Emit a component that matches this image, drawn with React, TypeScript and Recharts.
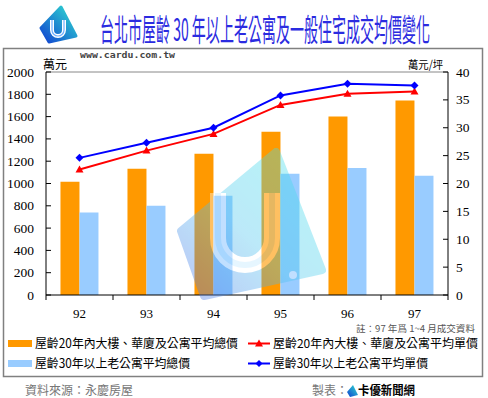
import React from 'react';
import { ComposedChart, Bar, Line, XAxis, YAxis, ReferenceLine } from 'recharts';

const years = ['92', '93', '94', '95', '96', '97'];
const newTotal = [1016, 1133, 1267, 1465, 1600, 1744];
const oldTotal = [740, 800, 890, 1088, 1139, 1070];
const newUnit = [22.5, 25.9, 28.9, 34.1, 36.1, 36.5];
const oldUnit = [24.6, 27.3, 30.0, 35.8, 37.9, 37.6];
const leftTicks = [0, 200, 400, 600, 800, 1000, 1200, 1400, 1600, 1800, 2000];
const rightTicks = [0, 5, 10, 15, 20, 25, 30, 35, 40];

const data = years.map((y, i) => ({
  year: y,
  newTotal: newTotal[i],
  oldTotal: oldTotal[i],
  newUnit: newUnit[i],
  oldUnit: oldUnit[i],
}));

const ORANGE = '#ff9900';
const LIGHT = '#99ccff';
const RED = '#ff0000';
const BLUE = '#0000ff';
const SERIF = '"Liberation Serif", "Times New Roman", serif';
const CJK = '"Noto Sans CJK TC", "Noto Sans", sans-serif';
const BAND = 67;

const LeftTick = (props: any) => {
  const { x, y, payload } = props;
  return (
    <g>
      <line x1={x} x2={x + 5} y1={y} y2={y} stroke="#000" />
      <text x={x - 12} y={y + 4.5} textAnchor="end" fontFamily={SERIF} fontSize={13.5} fill="#000">
        {payload.value}
      </text>
    </g>
  );
};

const RightTick = (props: any) => {
  const { x, y, payload } = props;
  return (
    <g>
      <line x1={x - 5} x2={x} y1={y} y2={y} stroke="#000" />
      <text x={x + 8} y={y + 4.5} textAnchor="start" fontFamily={SERIF} fontSize={13.5} fill="#000">
        {payload.value}
      </text>
    </g>
  );
};

const BottomTick = (props: any) => {
  const { x, y, payload, index } = props;
  return (
    <g>
      <line x1={x - BAND / 2} x2={x - BAND / 2} y1={y} y2={y + 5} stroke="#000" />
      {index === years.length - 1 && (
        <line x1={x + BAND / 2} x2={x + BAND / 2} y1={y} y2={y + 5} stroke="#000" />
      )}
      <text x={x} y={y + 23} textAnchor="middle" fontFamily={SERIF} fontSize={13} fill="#000">
        {payload.value}
      </text>
    </g>
  );
};

const Triangle = (props: any) => {
  const { cx, cy } = props;
  if (cx == null || cy == null) return null;
  return <polygon points={`${cx},${cy - 4} ${cx + 4},${cy + 3} ${cx - 4},${cy + 3}`} fill={RED} />;
};

const Diamond = (props: any) => {
  const { cx, cy } = props;
  if (cx == null || cy == null) return null;
  return <polygon points={`${cx},${cy - 4} ${cx + 4},${cy} ${cx},${cy + 4} ${cx - 4},${cy}`} fill={BLUE} />;
};

export default function App() {
  return (
    <div style={{ position: 'absolute', left: 0, top: 0, width: 488, height: 398, background: '#fff' }}>
      <ComposedChart
        width={488}
        height={398}
        data={data}
        margin={{ top: 72, right: 0, bottom: 73, left: 0 }}
        barGap={0}
        barCategoryGap="21.6%"
      >
        <XAxis
          dataKey="year"
          height={30}
          axisLine={{ stroke: '#000' }}
          tickLine={false}
          tickSize={0}
          tickMargin={0}
          tick={<BottomTick />}
        />
        <YAxis
          yAxisId="l"
          width={46}
          domain={[0, 2000]}
          ticks={leftTicks}
          interval={0}
          axisLine={{ stroke: '#000' }}
          tickLine={false}
          tickSize={0}
          tickMargin={0}
          tick={<LeftTick />}
        />
        <YAxis
          yAxisId="r"
          orientation="right"
          width={40}
          domain={[0, 40]}
          ticks={rightTicks}
          interval={0}
          axisLine={{ stroke: '#000' }}
          tickLine={false}
          tickSize={0}
          tickMargin={0}
          tick={<RightTick />}
        />
        <ReferenceLine yAxisId="l" y={2000} stroke="#888" />
        <Bar yAxisId="l" dataKey="newTotal" fill={ORANGE} isAnimationActive={false} />
        <Bar yAxisId="l" dataKey="oldTotal" fill={LIGHT} isAnimationActive={false} />
        <Line
          yAxisId="r"
          dataKey="newUnit"
          stroke={RED}
          strokeWidth={2}
          dot={<Triangle />}
          activeDot={false}
          isAnimationActive={false}
        />
        <Line
          yAxisId="r"
          dataKey="oldUnit"
          stroke={BLUE}
          strokeWidth={2}
          dot={<Diamond />}
          activeDot={false}
          isAnimationActive={false}
        />
      </ComposedChart>

      <svg
        width={488}
        height={398}
        style={{ position: 'absolute', left: 0, top: 0, pointerEvents: 'none' }}
      >
        <defs>
          <linearGradient id="wm" x1="1" y1="0" x2="0" y2="1">
            <stop offset="0%" stopColor="#40e8e8" />
            <stop offset="55%" stopColor="#50c8f0" />
            <stop offset="100%" stopColor="#4a6ae8" />
          </linearGradient>
          <linearGradient id="lg" x1="1" y1="0" x2="0" y2="1">
            <stop offset="0%" stopColor="#30e0d0" />
            <stop offset="100%" stopColor="#1040d0" />
          </linearGradient>
        </defs>

        {/* watermark */}
        <g opacity={0.38}>
          <polygon
            points="276,152 322,270 204,296 181,231"
            fill="url(#wm)"
            stroke="url(#wm)"
            strokeWidth={8}
            strokeLinejoin="round"
          />
          <path d="M218,193 L218,238 A27,27 0 0 0 272,238 L272,193" fill="none" stroke="#fff" strokeWidth={16} />
          <path d="M218,193 L218,238 A27,27 0 0 0 272,238 L272,193" fill="none" stroke="#bfe8ff" strokeWidth={6} />
          <circle cx={293} cy={275} r={4} fill="#fff" />
        </g>

        {/* top-left logo */}
        <polygon
          points="61,7 76,36 49,42 41,28"
          fill="url(#lg)"
          stroke="url(#lg)"
          strokeWidth={3}
          strokeLinejoin="round"
        />
        <path d="M52,20 L52,30 A6,6 0 0 0 64,30 L64,20" fill="none" stroke="#fff" strokeWidth={4} />
        <path d="M52,20 L52,30 A6,6 0 0 0 64,30 L64,20" fill="none" stroke="#6fb0ff" strokeWidth={1.2} />

        <text
          transform="translate(100,41) scale(0.5,1)"
          x={0}
          y={0}
          fontFamily={CJK}
          fontSize={31}
          fill="#2b2be0"
          textLength={660}
          lengthAdjust="spacingAndGlyphs"
        >
          台北市屋齡 30 年以上老公寓及一般住宅成交均價變化
        </text>

        <rect x={3.5} y={48.5} width={479} height={328} fill="none" stroke="#808080" strokeWidth={1.5} />

        <text
          x={80}
          y={58}
          fontFamily='"DejaVu Sans Mono", monospace'
          fontWeight="bold"
          fontSize={8}
          fill="#444"
          textLength={95}
          lengthAdjust="spacingAndGlyphs"
        >
          www.cardu.com.tw
        </text>

        <text x={43} y={69} fontFamily={CJK} fontSize={12} fill="#000">萬元</text>
        <text x={408} y={69} fontFamily={CJK} fontSize={11.5} fill="#000" textLength={35} lengthAdjust="spacingAndGlyphs">
          萬元/坪
        </text>

        <text x={356} y={332} fontFamily={CJK} fontSize={9} fill="#555" textLength={119} lengthAdjust="spacingAndGlyphs">
          註：97 年爲 1~4 月成交資料
        </text>

        {/* legend */}
        <rect x={8} y={340} width={24} height={7} fill={ORANGE} />
        <text x={35} y={348} fontFamily={CJK} fontSize={12.5} fill="#000" textLength={203} lengthAdjust="spacingAndGlyphs">
          屋齡20年內大樓、華廈及公寓平均總價
        </text>
        <line x1={248} x2={270} y1={343.5} y2={343.5} stroke={RED} strokeWidth={2} />
        <polygon points="259,339.5 263,346.5 255,346.5" fill={RED} />
        <text x={273} y={348} fontFamily={CJK} fontSize={12} fill="#000" textLength={205} lengthAdjust="spacingAndGlyphs">
          屋齡20年內大樓、華廈及公寓平均單價
        </text>

        <rect x={8} y={360} width={24} height={7} fill={LIGHT} />
        <text x={35} y={368} fontFamily={CJK} fontSize={12.5} fill="#000" textLength={155} lengthAdjust="spacingAndGlyphs">
          屋齡30年以上老公寓平均總價
        </text>
        <line x1={248} x2={270} y1={363.5} y2={363.5} stroke={BLUE} strokeWidth={2} />
        <polygon points="259,360 262.5,363.5 259,367 255.5,363.5" fill={BLUE} />
        <text x={273} y={368} fontFamily={CJK} fontSize={12.5} fill="#000" textLength={155} lengthAdjust="spacingAndGlyphs">
          屋齡30年以上老公寓平均單價
        </text>

        {/* footer */}
        <text x={25} y={395} fontFamily={CJK} fontSize={12} fill="#777" textLength={108} lengthAdjust="spacingAndGlyphs">
          資料來源：永慶房屋
        </text>
        <text x={312} y={395} fontFamily={CJK} fontSize={12} fill="#777">製表：</text>
        <polygon points="353,385 358,395 350,397 347,392" fill="url(#lg)" />
        <text
          x={358}
          y={395}
          fontFamily={CJK}
          fontWeight="bold"
          fontSize={12}
          fill="#000"
          textLength={57}
          lengthAdjust="spacingAndGlyphs"
        >
          卡優新聞網
        </text>
      </svg>
    </div>
  );
}
